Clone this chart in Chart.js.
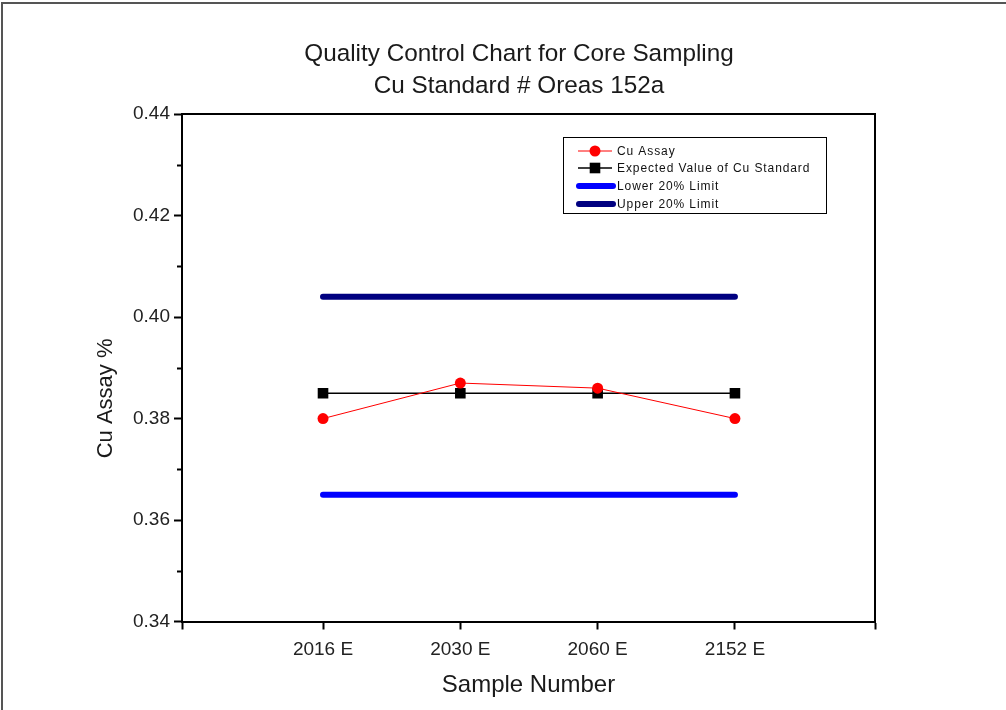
<!DOCTYPE html>
<html>
<head>
<meta charset="utf-8">
<title>Quality Control Chart for Core Sampling</title>
<script src="https://cdn.jsdelivr.net/npm/chart.js@4/dist/chart.umd.min.js"></script>
<style>
  html, body { margin: 0; padding: 0; background: #fff; }
  #chart { display: block; }
</style>
</head>
<body>
<canvas id="chart" width="1006" height="710"></canvas>
<script>
// data
const samples = ['2016 E', '2030 E', '2060 E', '2152 E'];
const cuAssay = [0.380, 0.387, 0.386, 0.380];
const expectedValue = [0.385, 0.385, 0.385, 0.385];
const lowerLimit = [0.365, 0.365, 0.365, 0.365];
const upperLimit = [0.404, 0.404, 0.404, 0.404];
const titleLines = ['Quality Control Chart for Core Sampling', 'Cu Standard # Oreas 152a'];
const yMin = 0.34, yMax = 0.44, yStep = 0.02;
const yMinorTicks = [0.35, 0.37, 0.39, 0.41, 0.43];
const xMin = -0.027, xMax = 5.02;

const FONT = "'Liberation Sans', Arial, sans-serif";

function points(values) {
    return values.map((v, i) => ({ x: i + 1, y: v }));
}

// frame round the whole figure + minor ticks on the y axis
const framePlugin = {
    id: 'frame',
    beforeDraw(chart) {
        const ctx = chart.ctx;
        ctx.save();
        ctx.fillStyle = '#fff';
        ctx.fillRect(0, 0, chart.width, chart.height);
        ctx.strokeStyle = '#555';
        ctx.lineWidth = 2;
        ctx.beginPath();
        ctx.moveTo(2, chart.height);
        ctx.lineTo(2, 3);
        ctx.lineTo(chart.width, 3);
        ctx.stroke();
        ctx.restore();
    },
    afterDraw(chart) {
        const ctx = chart.ctx;
        const y = chart.scales.y;
        const left = chart.chartArea.left;
        ctx.save();
        ctx.strokeStyle = '#000';
        ctx.lineWidth = 2;
        yMinorTicks.forEach(v => {
            const py = Math.round(y.getPixelForValue(v)) + 0.5;
            ctx.beginPath();
            ctx.moveTo(left - 5, py);
            ctx.lineTo(left, py);
            ctx.stroke();
        });
        ctx.restore();
    }
};

// legend box inside the plot, like the original
const boxLegend = {
    id: 'boxLegend',
    afterDraw(chart) {
        const ctx = chart.ctx;
        const box = { x: 563.5, y: 137.5, w: 263, h: 76 };
        const rows = [151, 168, 186, 204];
        ctx.save();
        ctx.strokeStyle = '#000';
        ctx.lineWidth = 1;
        ctx.strokeRect(box.x, box.y, box.w, box.h);
        ctx.font = '12px ' + FONT;
        ctx.letterSpacing = '0.9px';
        ctx.textBaseline = 'middle';
        chart.data.datasets.forEach((ds, i) => {
            const ry = rows[i];
            ctx.strokeStyle = ds.borderColor;
            ctx.lineWidth = ds.borderWidth;
            ctx.lineCap = ds.borderCapStyle || 'butt';
            ctx.beginPath();
            if (ds.pointRadius > 0) {
                ctx.moveTo(578, ry);
                ctx.lineTo(612, ry);
            } else {
                ctx.moveTo(579, ry);
                ctx.lineTo(613, ry);
            }
            ctx.stroke();
            if (ds.pointRadius > 0) {
                ctx.fillStyle = ds.pointBackgroundColor;
                Chart.helpers.drawPoint(ctx, {
                    pointStyle: ds.pointStyle,
                    radius: ds.pointRadius,
                    rotation: 0,
                    borderWidth: 0
                }, 595, ry);
            }
            ctx.fillStyle = '#111';
            ctx.fillText(ds.label, 617, ry + 1);
        });
        ctx.restore();
    }
};

const ctx = document.getElementById('chart').getContext('2d');

new Chart(ctx, {
    type: 'line',
    data: {
        datasets: [
            {
                label: 'Cu Assay',
                data: points(cuAssay),
                borderColor: '#ff0000',
                backgroundColor: '#ff0000',
                pointBackgroundColor: '#ff0000',
                borderWidth: 1,
                pointStyle: 'circle',
                pointRadius: 5.5,
                pointBorderWidth: 0
            },
            {
                label: 'Expected Value of Cu Standard',
                data: points(expectedValue),
                borderColor: '#000000',
                backgroundColor: '#000000',
                pointBackgroundColor: '#000000',
                borderWidth: 1.5,
                pointStyle: 'rect',
                pointRadius: 7.5,
                pointBorderWidth: 0
            },
            {
                label: 'Lower 20% Limit',
                data: points(lowerLimit),
                borderColor: '#0000ff',
                backgroundColor: '#0000ff',
                borderWidth: 6,
                borderCapStyle: 'round',
                pointRadius: 0
            },
            {
                label: 'Upper 20% Limit',
                data: points(upperLimit),
                borderColor: '#000080',
                backgroundColor: '#000080',
                borderWidth: 6,
                borderCapStyle: 'round',
                pointRadius: 0
            }
        ]
    },
    options: {
        responsive: false,
        animation: false,
        devicePixelRatio: 1,
        layout: { padding: { left: 32, right: 0, top: 0, bottom: 0 } },
        elements: { line: { tension: 0 } },
        plugins: {
            legend: { display: false },
            tooltip: { enabled: false },
            title: {
                display: true,
                text: titleLines,
                color: '#1a1a1a',
                font: { family: FONT, size: 24.3, weight: 'normal', lineHeight: 1.3 },
                padding: { top: 39, bottom: 12 }
            }
        },
        scales: {
            x: {
                type: 'linear',
                position: 'bottom',
                min: xMin,
                max: xMax,
                afterFit: s => { s.height = 88.5; },
                // ticks at both ends of the axis and under each sample
                afterBuildTicks: s => {
                    s.ticks = [xMin, 1, 2, 3, 4, xMax].map(v => ({ value: v }));
                },
                ticks: {
                    autoSkip: false,
                    maxRotation: 0,
                    padding: 9,
                    color: '#222',
                    font: { family: FONT, size: 19 },
                    callback: v => samples[v - 1] || ''
                },
                grid: { drawOnChartArea: false, tickLength: 8, tickWidth: 2, tickColor: '#000' },
                border: { color: '#000', width: 2 },
                title: {
                    display: true,
                    text: 'Sample Number',
                    color: '#1a1a1a',
                    font: { family: FONT, size: 24 },
                    padding: { top: 0, bottom: 10.5 }
                }
            },
            xTop: {
                type: 'linear',
                position: 'top',
                min: xMin,
                max: xMax,
                afterFit: s => { s.height = 0; },
                ticks: { display: false },
                grid: { display: false },
                border: { color: '#000', width: 2 }
            },
            y: {
                type: 'linear',
                position: 'left',
                min: yMin,
                max: yMax,
                afterFit: s => { s.width = 150; },
                ticks: {
                    stepSize: yStep,
                    padding: 4,
                    color: '#222',
                    font: { family: FONT, size: 19 },
                    callback: v => v.toFixed(2)
                },
                grid: { drawOnChartArea: false, tickLength: 8, tickWidth: 2, tickColor: '#000' },
                border: { color: '#000', width: 2 },
                title: {
                    display: true,
                    text: 'Cu Assay %          ',
                    color: '#1a1a1a',
                    font: { family: FONT, size: 22 },
                    padding: { top: 61, bottom: 0 }
                }
            },
            yRight: {
                type: 'linear',
                position: 'right',
                min: yMin,
                max: yMax,
                afterFit: s => { s.width = 131; },
                ticks: { display: false },
                grid: { display: false },
                border: { color: '#000', width: 2 }
            }
        }
    },
    plugins: [framePlugin, boxLegend]
});
</script>
</body>
</html>
